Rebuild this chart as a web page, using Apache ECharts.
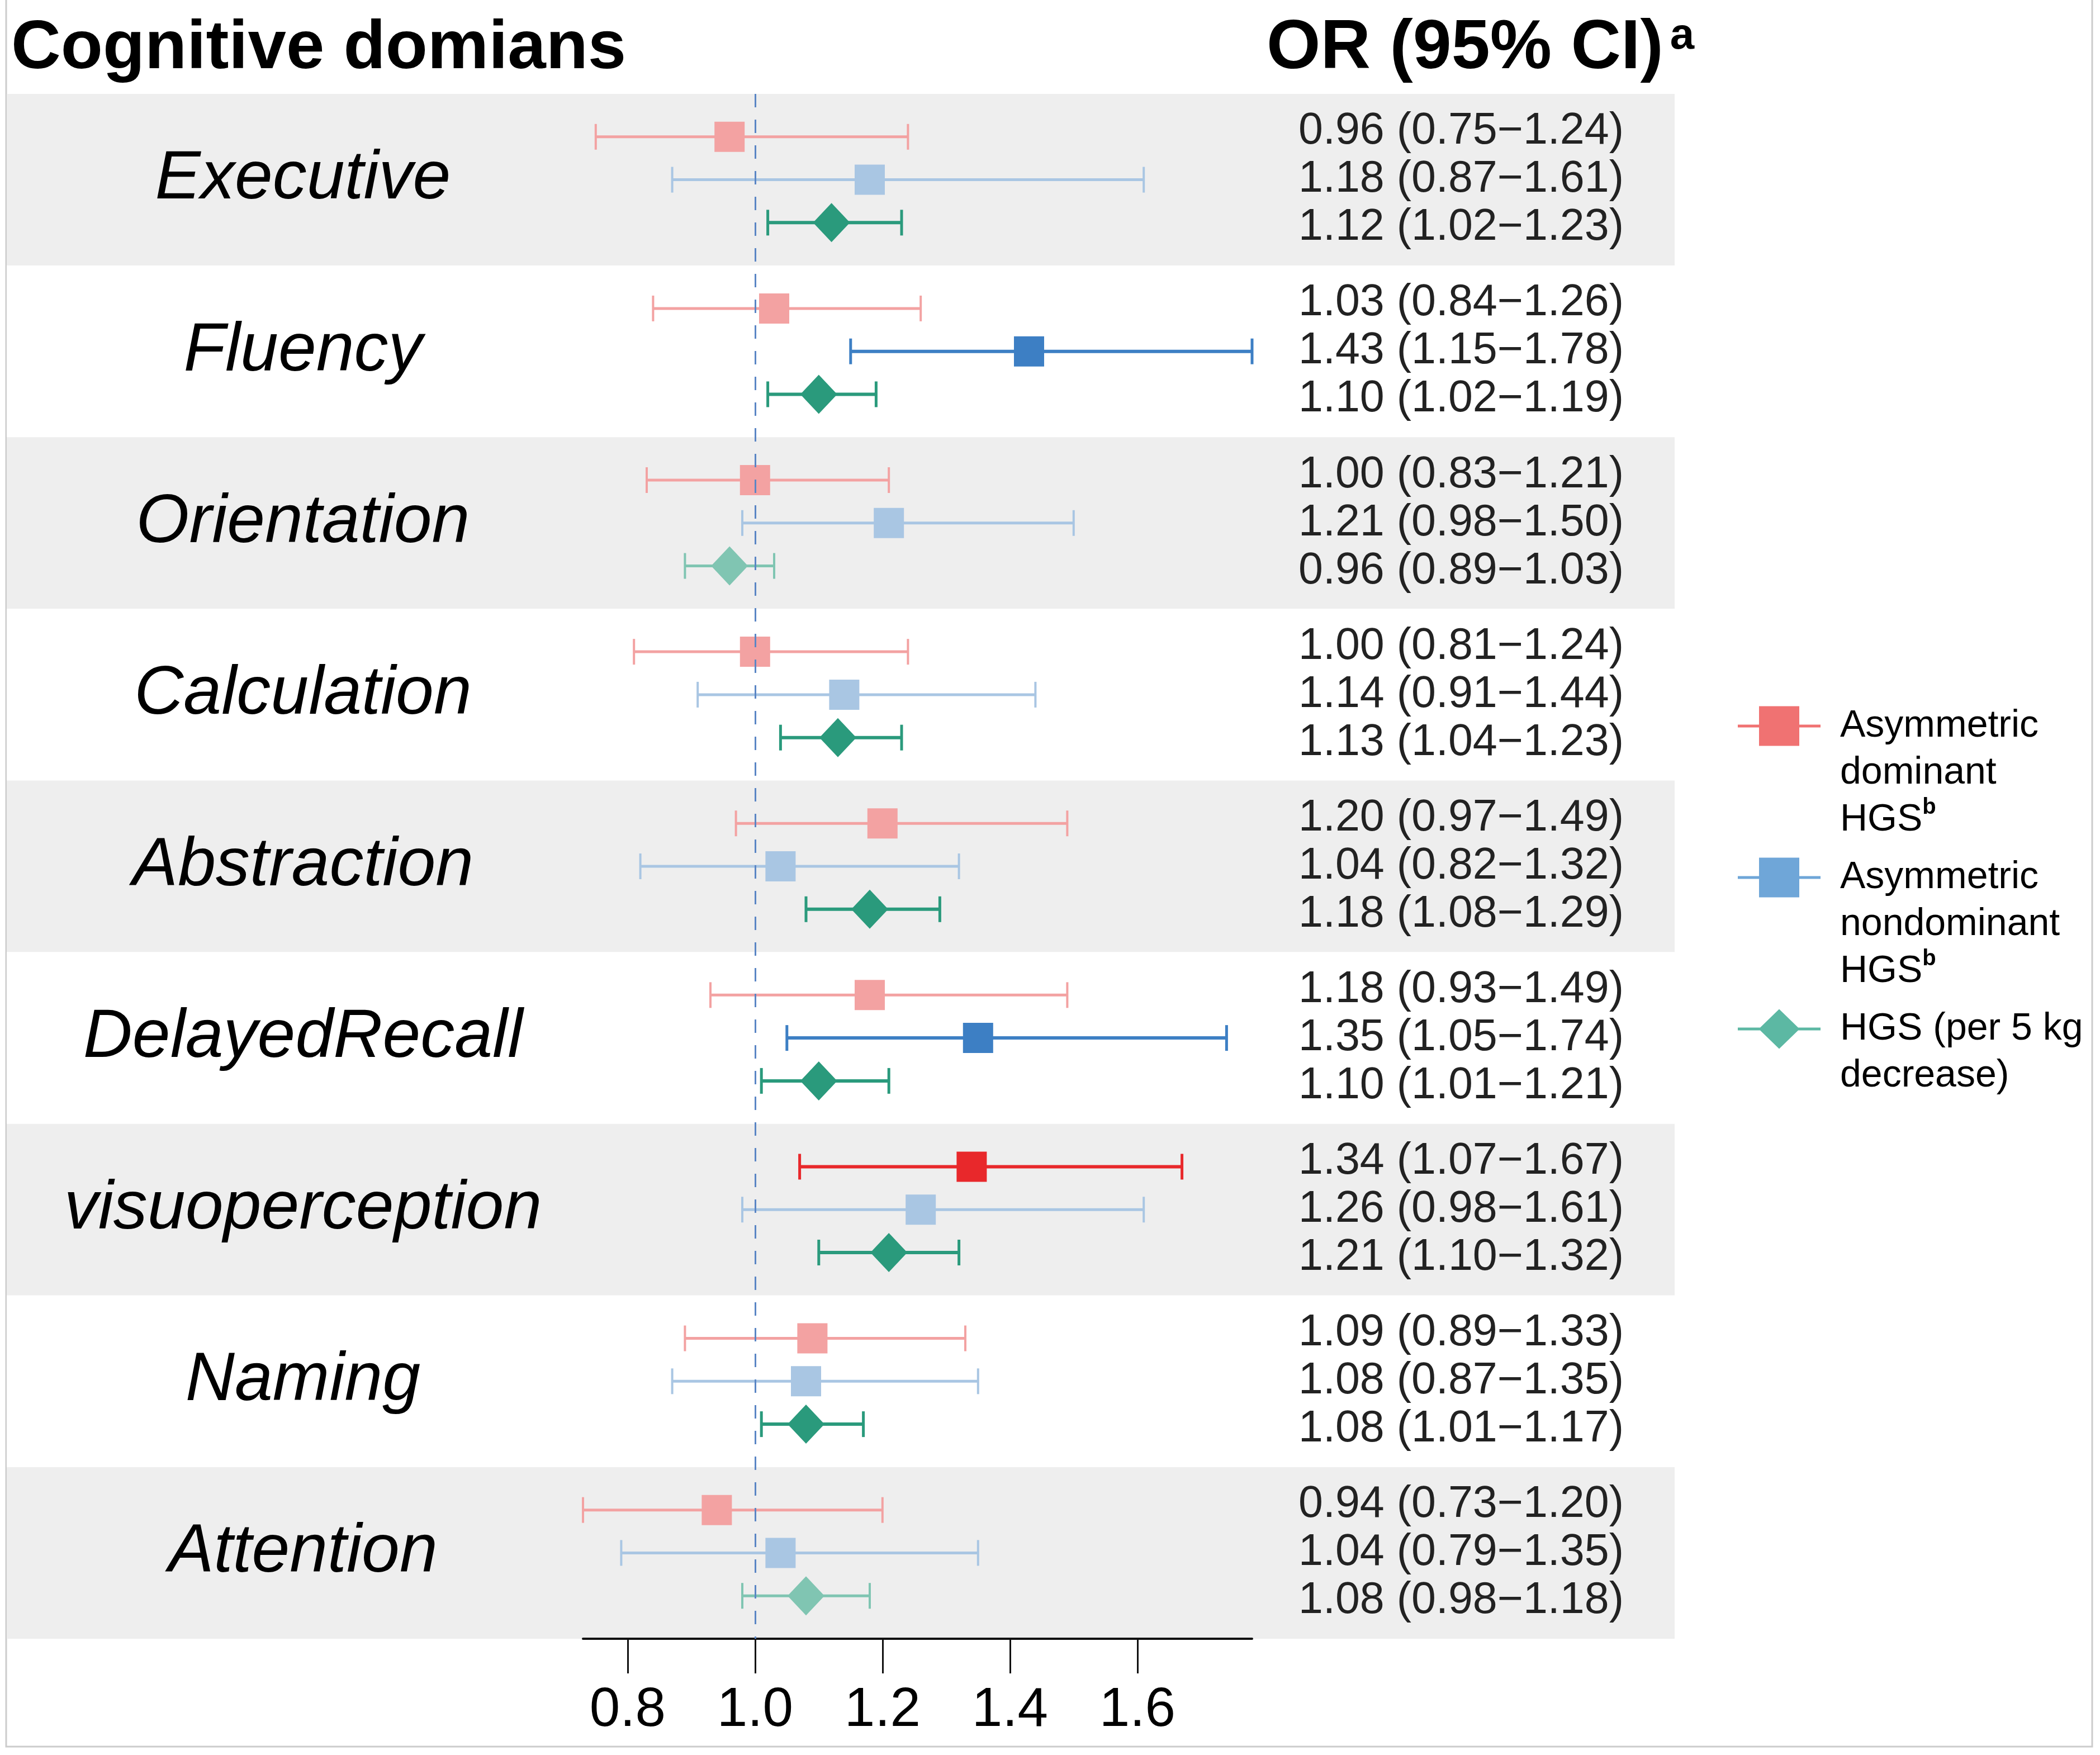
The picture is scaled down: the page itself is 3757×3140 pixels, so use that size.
<!DOCTYPE html>
<html>
<head>
<meta charset="utf-8">
<title>Cognitive domains forest plot</title>
<script src="https://cdn.jsdelivr.net/npm/echarts@6/dist/echarts.min.js"></script>
<style>
  html, body { margin: 0; padding: 0; background: #fff; }
  #chart { width: 3757px; height: 3140px; }
</style>
</head>
<body>
<div id="chart"></div>
<script>
// cognitive domains, top to bottom
const domains = ['Executive', 'Fluency', 'Orientation', 'Calculation', 'Abstraction',
  'DelayedRecall', 'visuoperception', 'Naming', 'Attention'];

// asymmetric dominant HGS
const domOR = [0.96, 1.03, 1.00, 1.00, 1.20, 1.18, 1.34, 1.09, 0.94];
const domLo = [0.75, 0.84, 0.83, 0.81, 0.97, 0.93, 1.07, 0.89, 0.73];
const domHi = [1.24, 1.26, 1.21, 1.24, 1.49, 1.49, 1.67, 1.33, 1.20];

// asymmetric nondominant HGS
const nonOR = [1.18, 1.43, 1.21, 1.14, 1.04, 1.35, 1.26, 1.08, 1.04];
const nonLo = [0.87, 1.15, 0.98, 0.91, 0.82, 1.05, 0.98, 0.87, 0.79];
const nonHi = [1.61, 1.78, 1.50, 1.44, 1.32, 1.74, 1.61, 1.35, 1.35];

// HGS per 5 kg decrease
const hgsOR = [1.12, 1.10, 0.96, 1.13, 1.18, 1.10, 1.21, 1.08, 1.08];
const hgsLo = [1.02, 1.02, 0.89, 1.04, 1.08, 1.01, 1.10, 1.01, 0.98];
const hgsHi = [1.23, 1.19, 1.03, 1.23, 1.29, 1.21, 1.32, 1.17, 1.18];

const xTicks = [0.8, 1.0, 1.2, 1.4, 1.6];
const FONT = 'Liberation Sans';

const fmt = (o, l, h) => o.toFixed(2) + ' (' + l.toFixed(2) + '\u2212' + h.toFixed(2) + ')';
const orText = domains.map((d, i) => [
  fmt(domOR[i], domLo[i], domHi[i]),
  fmt(nonOR[i], nonLo[i], nonHi[i]),
  fmt(hgsOR[i], hgsLo[i], hgsHi[i])
].join('\n'));

// each domain takes 4 y units, rows sit at 1, 2, 3
const rows = (or, lo, hi, k) => domains.map((d, i) => [or[i], lo[i], hi[i], 4 * i + k]);

function makeRenderer(shape, strong, light) {
  return function (params, api) {
    const y = api.value(3);
    const lo = api.value(1);
    const hi = api.value(2);
    const mid = api.coord([api.value(0), y]);
    const a = api.coord([lo, y]);
    const b = api.coord([hi, y]);
    const sig = lo > 1 || hi < 1;
    const color = sig ? strong : light;
    const lw = sig ? 6 : 5;
    const cap = 23;
    const children = [
      { type: 'line', shape: { x1: a[0], y1: a[1], x2: b[0], y2: b[1] }, style: { stroke: color, lineWidth: lw } },
      { type: 'line', shape: { x1: a[0], y1: a[1] - cap, x2: a[0], y2: a[1] + cap }, style: { stroke: color, lineWidth: lw - 1 } },
      { type: 'line', shape: { x1: b[0], y1: b[1] - cap, x2: b[0], y2: b[1] + cap }, style: { stroke: color, lineWidth: lw - 1 } }
    ];
    if (shape === 'square') {
      children.push({ type: 'rect', shape: { x: mid[0] - 27, y: mid[1] - 27, width: 54, height: 54 }, style: { fill: color } });
    } else {
      children.push({
        type: 'polygon',
        shape: { points: [[mid[0], mid[1] - 35], [mid[0] + 33, mid[1]], [mid[0], mid[1] + 35], [mid[0] - 33, mid[1]]] },
        style: { fill: color }
      });
    }
    return { type: 'group', children: children };
  };
}

const squareIcon = 'path://M0,33 L38,33 L38,0 L110,0 L110,33 L148,33 L148,38 L110,38 L110,71 L38,71 L38,38 L0,38 Z';
const diamondIcon = 'path://M0,33 L40,33 L74,0 L108,33 L148,33 L148,38 L108,38 L74,71 L40,38 L0,38 Z';

const legendText = {
  color: '#000',
  fontFamily: FONT,
  fontSize: 68,
  lineHeight: 84,
  padding: [0, 0, 0, 30],
  rich: {
    t: { fontSize: 68, lineHeight: 84, color: '#000', fontFamily: FONT },
    s: { fontSize: 40, lineHeight: 64, verticalAlign: 'top', fontWeight: 'bold', color: '#000', fontFamily: FONT }
  }
};

function legendAt(top, name, icon, formatter) {
  return {
    orient: 'vertical',
    left: 3109,
    top: top,
    padding: 0,
    itemWidth: 148,
    itemHeight: 71,
    data: [{ name: name, icon: icon }],
    formatter: formatter,
    textStyle: legendText
  };
}

const chart = echarts.init(document.getElementById('chart'));

const option = {
  backgroundColor: '#fff',
  animation: false,
  textStyle: { fontFamily: FONT },
  title: [
    {
      text: 'Cognitive domians',
      left: 20,
      top: 26,
      padding: 0,
      textStyle: { fontSize: 123, fontWeight: 'bold', color: '#000', fontFamily: FONT, lineHeight: 124 }
    },
    {
      text: '{m|OR (95% CI)}{s|a}',
      left: 2266,
      top: 26,
      padding: 0,
      textStyle: {
        rich: {
          m: { fontSize: 124, fontWeight: 'bold', color: '#000', fontFamily: FONT, lineHeight: 124 },
          s: { fontSize: 78, fontWeight: 'bold', color: '#000', fontFamily: FONT, lineHeight: 60, verticalAlign: 'top', padding: [0, 0, 0, 12] }
        }
      }
    }
  ],
  legend: [
    legendAt(1089, 'Asymmetric dominant HGS', squareIcon,
      () => '{t| }\n{t| }\n{t|Asymmetric}\n{t|dominant}\n{t|HGS}{s|b}'),
    legendAt(1360, 'Asymmetric nondominant HGS', squareIcon,
      () => '{t| }\n{t| }\n{t|Asymmetric}\n{t|nondominant}\n{t|HGS}{s|b}'),
    legendAt(1715, 'HGS (per 5 kg decrease)', diamondIcon,
      () => '{t| }\n{t|HGS (per 5 kg}\n{t|decrease)}')
  ],
  grid: [
    { left: 12, top: 168, width: 2984, height: 2764, outerBoundsMode: 'none' },
    { left: 1043, top: 168, width: 1197, height: 2764, outerBoundsMode: 'none' }
  ],
  xAxis: [
    { gridIndex: 0, type: 'value', min: 0, max: 1, show: false },
    {
      gridIndex: 1,
      type: 'value',
      position: 'bottom',
      min: 0.73,
      max: 1.78,
      axisLine: { show: true, onZero: false, lineStyle: { color: '#111', width: 4 } },
      axisTick: { show: true, customValues: xTicks, length: 62, lineStyle: { color: '#111', width: 3 } },
      axisLabel: {
        customValues: xTicks,
        formatter: (v) => v.toFixed(1),
        fontSize: 98,
        color: '#000',
        fontFamily: FONT,
        margin: 80
      },
      splitLine: { show: false }
    }
  ],
  yAxis: [
    {
      gridIndex: 0,
      type: 'category',
      inverse: true,
      position: 'left',
      data: domains,
      axisLine: { show: false },
      axisTick: { show: false },
      axisLabel: {
        inside: true,
        interval: 0,
        align: 'center',
        margin: 530,
        fontSize: 122,
        fontStyle: 'italic',
        color: '#000',
        fontFamily: FONT
      },
      splitLine: { show: false },
      splitArea: { show: true, interval: 0, areaStyle: { color: ['#eeeeee', '#ffffff'] } }
    },
    {
      gridIndex: 0,
      type: 'category',
      inverse: true,
      position: 'right',
      data: orText,
      axisLine: { show: false },
      axisTick: { show: false },
      axisLabel: {
        inside: true,
        interval: 0,
        align: 'right',
        margin: 91,
        fontSize: 79,
        lineHeight: 86,
        color: '#222',
        fontFamily: FONT
      },
      splitLine: { show: false }
    },
    { gridIndex: 1, type: 'value', inverse: true, min: 0, max: 36, show: false }
  ],
  series: [
    {
      name: 'Asymmetric dominant HGS',
      type: 'custom',
      xAxisIndex: 1,
      yAxisIndex: 2,
      clip: false,
      itemStyle: { color: '#f07272' },
      encode: { x: [0, 1, 2], y: 3 },
      data: rows(domOR, domLo, domHi, 1),
      renderItem: makeRenderer('square', '#e8282b', '#f3a2a2')
    },
    {
      name: 'Asymmetric nondominant HGS',
      type: 'custom',
      xAxisIndex: 1,
      yAxisIndex: 2,
      clip: false,
      itemStyle: { color: '#6fa6d8' },
      encode: { x: [0, 1, 2], y: 3 },
      data: rows(nonOR, nonLo, nonHi, 2),
      renderItem: makeRenderer('square', '#3d7fc4', '#a9c6e3')
    },
    {
      name: 'HGS (per 5 kg decrease)',
      type: 'custom',
      xAxisIndex: 1,
      yAxisIndex: 2,
      clip: false,
      itemStyle: { color: '#5cb8a3' },
      encode: { x: [0, 1, 2], y: 3 },
      data: rows(hgsOR, hgsLo, hgsHi, 3),
      renderItem: makeRenderer('diamond', '#2a9a7c', '#80c5b2'),
      markLine: {
        silent: true,
        symbol: ['none', 'none'],
        label: { show: false },
        lineStyle: { color: '#5b86c5', width: 3, type: [24, 22] },
        data: [{ xAxis: 1 }]
      }
    }
  ],
  graphic: [
    {
      type: 'rect',
      shape: { x: 11, y: -10, width: 3732, height: 3135 },
      style: { fill: 'none', stroke: '#cccccc', lineWidth: 3 },
      silent: true
    }
  ]
};

chart.setOption(option);
</script>
</body>
</html>
